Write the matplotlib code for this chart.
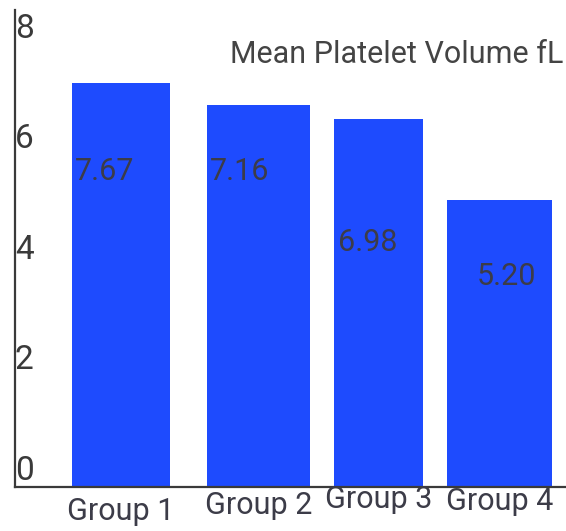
import matplotlib
matplotlib.use('Agg')
import matplotlib.pyplot as plt
from matplotlib import transforms

# data
groups = ['Group 1', 'Group 2', 'Group 3', 'Group 4']
bar_heights = [7.31, 6.91, 6.66, 5.19]
value_labels = ['7.67', '7.16', '6.98', '5.20']
y_ticks = [0, 2, 4, 6, 8]
title = 'Mean Platelet Volume fL'

# layout tweaks (the original is loosely placed)
bar_nudge = [0.0, 0.09, 0.04, 0.0]        # small horizontal shifts of the bars
bar_widths = [0.78, 0.82, 0.71, 0.83]
label_y = [5.70, 5.70, 4.42, 3.80]       # vertical centre of value labels
label_dx = [3, 3, 4, 30]                  # px offset from bar left edge
group_dy = [-25, -18, -13, -15]           # px offset of group labels below axis

BAR_COLOR = '#1e4bfe'
TEXT_COLOR = '#3c3c48'
AXIS_COLOR = '#3a3a3a'

plt.rcParams['font.family'] = ['Roboto', 'DejaVu Sans']

fig = plt.figure(figsize=(5.66, 5.31), dpi=100)
ax = fig.add_axes([15 / 566, 44 / 531, 551 / 566, 477 / 531])

x = [i + d for i, d in enumerate(bar_nudge)]
ax.bar(x, bar_heights, width=bar_widths, color=BAR_COLOR)

ax.set_xlim(-0.84, 3.526)
ax.set_ylim(0, 8.63)

for side in ['top', 'right']:
    ax.spines[side].set_visible(False)
for side in ['left', 'bottom']:
    ax.spines[side].set_color(AXIS_COLOR)
    ax.spines[side].set_linewidth(1.6)

ax.set_xticks([])
ax.set_yticks([])

# y tick labels drawn inside the axis, sitting on their value
for v in y_ticks:
    ax.text(0, v, str(v), transform=ax.get_yaxis_transform(),
            ha='left', va='bottom', fontsize=24, color=AXIS_COLOR)

# value labels inside bars
for i, lab in enumerate(value_labels):
    tr = ax.transData + transforms.ScaledTranslation(label_dx[i] / 100, 0, fig.dpi_scale_trans)
    ax.text(x[i] - bar_widths[i] / 2, label_y[i], lab, transform=tr,
            ha='left', va='center', fontsize=22, color=TEXT_COLOR)

# group labels under the bars
for i, g in enumerate(groups):
    tr = ax.get_xaxis_transform() + transforms.ScaledTranslation(0, group_dy[i] / 100, fig.dpi_scale_trans)
    ax.text(x[i], 0, g, transform=tr, ha='center', va='center',
            fontsize=22, color=TEXT_COLOR)

fig.text(563 / 566, (531 - 63) / 531, title, ha='right', va='baseline',
         fontsize=22, color='#444444')

fig.savefig('out.png', dpi=100)
